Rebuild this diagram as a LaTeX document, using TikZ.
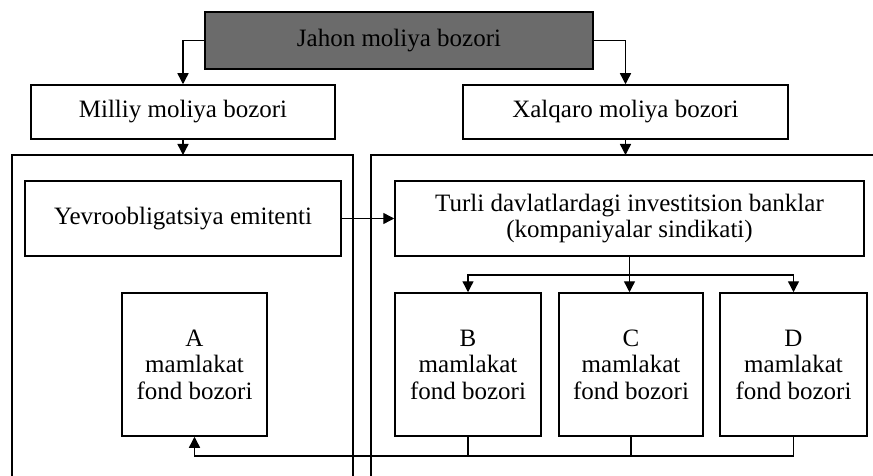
\documentclass[tikz,border=0pt]{standalone}
\usepackage{fontspec}
\setmainfont{Liberation Serif}
\usetikzlibrary{arrows.meta}
\begin{document}
\begin{tikzpicture}[x=1pt,y=-1pt,
  box/.style={draw, line width=1.5pt, fill=white, inner sep=0pt,
    font=\fontsize{25}{26.5}\selectfont, align=center},
  arr/.style={line width=1.4pt, -{Triangle[length=11pt,width=11pt]}},
  ln/.style={line width=1.4pt}]
\useasboundingbox (0,0) rectangle (873,476);
% panels
\draw[ln] (12,480) -- (12,155) -- (353,155) -- (353,480);
\draw[ln] (371,480) -- (371,155) -- (877,155);
\coordinate (lp) at (183,155);
\coordinate (rp) at (625.5,155);
% nodes
\node[box, fill=black!58, minimum width=388pt, minimum height=57pt] (jahon) at (399,40.5) {Jahon moliya bozori};
\node[box, minimum width=304pt, minimum height=54pt] (milliy) at (183,112) {Milliy moliya bozori};
\node[box, minimum width=325pt, minimum height=54pt] (xalqaro) at (625.5,112) {Xalqaro moliya bozori};
\node[box, minimum width=316pt, minimum height=75pt] (yevro) at (183,218.5) {Yevroobligatsiya emitenti};
\node[box, minimum width=469pt, minimum height=75pt] (turli) at (629.5,218.5) {Turli davlatlardagi investitsion banklar\\(kompaniyalar sindikati)};
\node[box, minimum width=145pt, minimum height=143pt] (A) at (194.5,364.5) {A\\mamlakat\\fond bozori};
\node[box, minimum width=146pt, minimum height=143pt] (B) at (468,364.5) {B\\mamlakat\\fond bozori};
\node[box, minimum width=144pt, minimum height=143pt] (C) at (631,364.5) {C\\mamlakat\\fond bozori};
\node[box, minimum width=147pt, minimum height=143pt] (D) at (793.5,364.5) {D\\mamlakat\\fond bozori};
% connectors
\draw[arr] (jahon.west) -| (milliy.north);
\draw[arr] (jahon.east) -| (xalqaro.north);
\draw[arr] (milliy.south) -- (lp);
\draw[arr] (xalqaro.south) -- (rp);
\draw[arr] (yevro.east) -- (turli.west);
\coordinate (split) at (629.5,275);
\draw[ln] (turli.south) -- (split);
\draw[arr] (split) -| (B.north);
\draw[arr] (split) -| (D.north);
\draw[arr] (split) -- (split |- C.north);
\coordinate (bot) at (0,456);
\draw[ln] (B.south) -- (B.south |- bot);
\draw[ln] (C.south) -- (C.south |- bot);
\draw[arr] (D.south) -- (D.south |- bot) -| (A.south);
\end{tikzpicture}
\end{document}
